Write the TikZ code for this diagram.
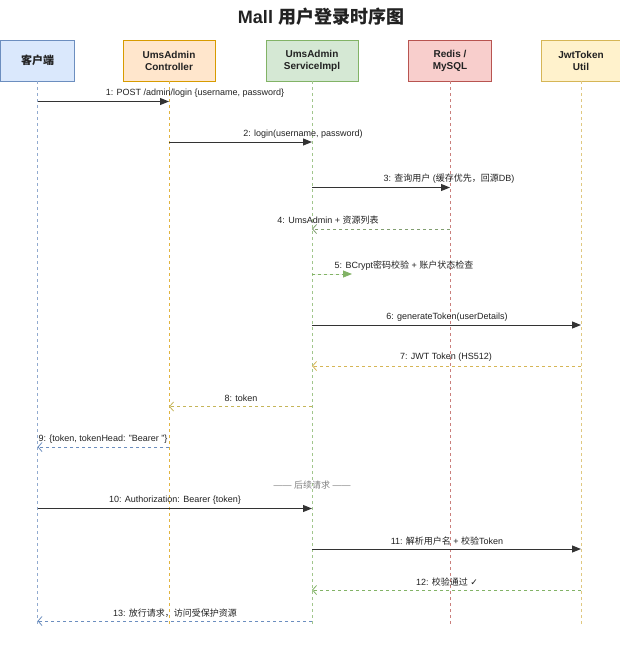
\documentclass[tikz,border=0pt]{standalone}
\usepackage{fontspec}
\setmainfont{Liberation Sans}
\newfontfamily\cjk{Noto Sans CJK SC}
\newfontfamily\sym{DejaVu Sans}
\usetikzlibrary{arrows.meta}
\definecolor{bfill}{HTML}{DAE8FC}\definecolor{bline}{HTML}{6C8EBF}
\definecolor{ofill}{HTML}{FFE6CC}\definecolor{oline}{HTML}{D79B00}
\definecolor{gfill}{HTML}{D5E8D4}\definecolor{gline}{HTML}{82B366}
\definecolor{rfill}{HTML}{F8CECC}\definecolor{rline}{HTML}{B85450}
\definecolor{yfill}{HTML}{FFF2CC}\definecolor{yline}{HTML}{D6B656}
\definecolor{txt}{HTML}{222222}
\definecolor{msgc}{HTML}{333333}
\tikzset{
  actor/.style={draw, line width=0.9pt, minimum height=41pt, inner sep=0pt,
    align=center, font=\fontsize{10}{12}\selectfont\bfseries, text=txt},
  life/.style={line width=0.7pt, dash pattern=on 3pt off 3pt},
  msg/.style={draw=msgc, line width=1pt, -{Triangle[length=9pt,width=7pt]}},
  ret/.style={line width=0.8pt, dash pattern=on 3pt off 3pt, -{Straight Barb[length=4pt,width=9pt]}},
  selfmsg/.style={draw=gline, line width=0.8pt, dash pattern=on 3pt off 3pt, -{Triangle[length=9pt,width=7pt]}},
  lbl/.style={font=\fontsize{9}{11}\selectfont, text=txt, inner sep=0pt},
}
\begin{document}
\begin{tikzpicture}[x=1pt,y=-1pt]
\useasboundingbox[fill=white] (0,0) rectangle (620,649);

\node[font=\fontsize{18}{20}\selectfont\bfseries, text=txt] (title) at (321,17) {Mall {\cjk 用户登录时序图}};

\node[actor, fill=bfill, draw=bline, minimum width=74pt, font=\fontsize{11}{13}\selectfont\bfseries] (c1) at (37.5,60.5) {\cjk 客户端};
\node[actor, fill=ofill, draw=oline, minimum width=92pt] (c2) at (169,60.5) {UmsAdmin\\Controller};
\node[actor, fill=gfill, draw=gline, minimum width=92pt] (c3) at (312,60.5) {UmsAdmin\\ServiceImpl};
\node[actor, fill=rfill, draw=rline, minimum width=83pt] (c4) at (450,60.5) {Redis /\\MySQL};
\node[actor, fill=yfill, draw=yline, minimum width=80pt] (c5) at (581,60.5) {JwtToken\\Util};

\foreach \n in {1,...,5} { \coordinate (e\n) at (c\n |- 0,627); }
\draw[life, draw=bline!75] (c1.south) -- (e1);
\draw[life, draw=oline!75] (c2.south) -- (e2);
\draw[life, draw=gline!75] (c3.south) -- (e3);
\draw[life, draw=rline!75] (c4.south) -- (e4);
\draw[life, draw=yline!75] (c5.south) -- (e5);

% 1
\draw[msg] (c1 |- 0,101.5) -- (c2 |- 0,101.5);
\node[lbl] (l1) at (195,93) {1: POST /admin/login \{username, password\}};
% 2
\draw[msg] (c2 |- 0,142) -- (c3 |- 0,142);
\node[lbl] (l2) at (303,134) {2: login(username, password)};
% 3
\draw[msg] (c3 |- 0,187.5) -- (c4 |- 0,187.5);
\node[lbl] (l3) at (449,179) {3: {\cjk 查询用户} ({\cjk 缓存优先，回源}DB)};
% 4
\draw[ret, draw=gline!60!gray] (c4 |- 0,229) -- (c3 |- 0,229);
\node[lbl] (l4) at (328,220) {4: UmsAdmin + {\cjk 资源列表}};
% 5
\coordinate (s5) at (352,274);
\draw[selfmsg, fill=gline] (c3 |- 0,274) -- (s5);
\node[lbl] (l5) at (404,266) {5: BCrypt{\cjk 密码校验} + {\cjk 账户状态检查}};
% 6
\draw[msg] (c3 |- 0,325) -- (c5 |- 0,325);
\node[lbl] (l6) at (447,317) {6: generateToken(userDetails)};
% 7
\draw[ret, draw=yline] (c5 |- 0,366) -- (c3 |- 0,366);
\node[lbl] (l7) at (446,357) {7: JWT Token (HS512)};
% 8
\draw[ret, draw=yline!80!gline] (c3 |- 0,406.5) -- (c2 |- 0,406.5);
\node[lbl] (l8) at (241,398) {8: token};
% 9
\draw[ret, draw=bline] (c2 |- 0,447) -- (c1 |- 0,447);
\node[lbl] (l9) at (103,439) {9: \{token, tokenHead: "Bearer "\}};
% separator
\node[lbl, text=gray] (sep) at (312,485) {—— {\cjk 后续请求} ——};
% 10
\draw[msg] (c1 |- 0,508.5) -- (c3 |- 0,508.5);
\node[lbl] (l10) at (175,500) {10: Authorization: Bearer \{token\}};
% 11
\draw[msg] (c3 |- 0,549) -- (c5 |- 0,549);
\node[lbl] (l11) at (447,541) {11: {\cjk 解析用户名} + {\cjk 校验}Token};
% 12
\draw[ret, draw=gline] (c5 |- 0,590) -- (c3 |- 0,590);
\node[lbl] (l12) at (447,582) {12: {\cjk 校验通过} {\sym ✓}};
% 13
\draw[ret, draw=bline] (c3 |- 0,621) -- (c1 |- 0,621);
\node[lbl] (l13) at (175,613) {13: {\cjk 放行请求，访问受保护资源}};
\end{tikzpicture}
\end{document}
